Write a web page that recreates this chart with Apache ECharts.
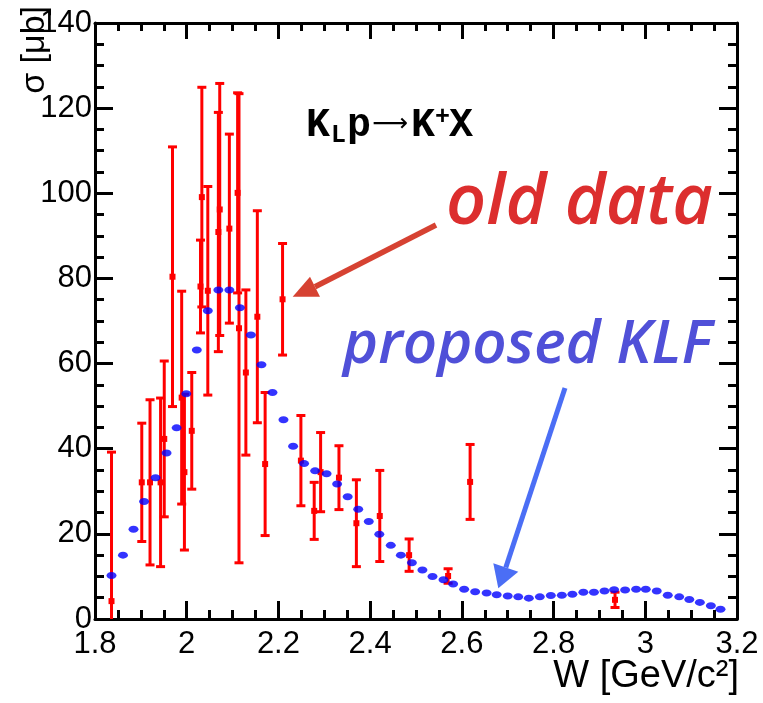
<!DOCTYPE html>
<html><head><meta charset="utf-8">
<script src="https://cdn.jsdelivr.net/npm/echarts@6/dist/echarts.min.js"></script>
<style>html,body{margin:0;padding:0;background:#fff}#c{width:763px;height:703px}</style>
</head><body><div id="c"></div>
<script>
// proposed KLF points (W in GeV/c^2, sigma in microbarn)
const klfW = [1.836,1.861,1.884,1.907,1.932,1.956,1.978,1.999,2.022,2.046,2.069,2.093,2.116,2.140,2.163,2.187,2.211,2.232,2.256,2.280,2.305,2.328,2.351,2.374,2.397,2.420,2.445,2.467,2.491,2.514,2.536,2.560,2.581,2.605,2.629,2.654,2.676,2.700,2.723,2.746,2.770,2.794,2.818,2.841,2.865,2.888,2.911,2.932,2.956,2.980,3.001,3.025,3.049,3.074,3.096,3.119,3.143,3.164];
const klfSigma = [10.2,15.0,21.1,27.6,33.2,39.0,44.9,52.9,63.2,72.4,77.3,77.3,73.1,66.7,59.7,53.2,46.8,40.6,36.5,34.8,34.1,31.7,28.7,25.8,22.9,19.9,17.3,15.0,13.2,11.5,10.0,9.2,8.2,7.0,6.4,6.1,5.7,5.4,5.2,4.9,5.2,5.5,5.6,5.8,6.3,6.3,6.6,6.9,6.8,7.0,7.0,6.6,5.6,5.2,4.6,3.9,3.1,2.3];
// old data with symmetric errors
const oldW = [1.836,1.902,1.920,1.943,1.951,1.969,1.989,1.995,2.011,2.030,2.033,2.046,2.069,2.072,2.093,2.111,2.114,2.129,2.154,2.171,2.209,2.249,2.278,2.292,2.332,2.370,2.421,2.485,2.570,2.618,2.934];
const oldSigma = [4.2,32.1,32.1,32.1,42.3,80.4,52.0,34.5,44.2,78.1,99.1,77.1,90.9,96.2,91.7,100.1,68.3,57.9,71.0,36.4,75.1,37.2,25.4,34.5,33.2,22.5,24.2,15.0,10.1,32.2,4.5];
const oldErr = [35.0,13.9,19.4,19.8,18.3,30.5,25.0,18.3,13.7,10.9,25.8,24.5,28.1,29.6,22.2,23.5,55.1,19.4,24.9,16.8,13.1,10.6,6.7,9.3,7.5,10.2,10.7,3.8,1.7,8.8,1.8];
// axes
const xRange = [1.8, 3.2], xStep = 0.2;
const yRange = [0, 140], yStep = 20;
const xTitle = 'W [GeV/c\u00b2]';
const yTitle = '\u03c3 [\u03bcb]';

const chart = echarts.init(document.getElementById('c'), null, {renderer:'canvas'});
const blk = '#000';
function xAx(pos, labels, maj, min) {
  return {type:'value', position:pos, min:xRange[0], max:xRange[1], interval:xStep,
    axisLine:{show:true, onZero:false, lineStyle:{color:blk, width:3}},
    axisTick:{show:true, inside:true, length:maj, lineStyle:{color:blk, width:3}},
    minorTick:{show:true, splitNumber:4, length:min, lineStyle:{color:blk, width:3}},
    splitLine:{show:false}, minorSplitLine:{show:false},
    axisLabel:{show:labels, fontSize:31, color:blk, fontFamily:'Liberation Sans', margin:10,
      showMinLabel:true, showMaxLabel:true, formatter:v=>String(+(+v).toFixed(1))}};
}
function yAx(pos, labels, maj, min) {
  return {type:'value', position:pos, min:yRange[0], max:yRange[1], interval:yStep,
    axisLine:{show:true, onZero:false, lineStyle:{color:blk, width:3}},
    axisTick:{show:true, inside:true, length:maj, lineStyle:{color:blk, width:3}},
    minorTick:{show:true, splitNumber:4, length:min, lineStyle:{color:blk, width:3}},
    splitLine:{show:false}, minorSplitLine:{show:false},
    axisLabel:{show:labels, fontSize:31, color:blk, fontFamily:'Liberation Sans', margin:3,
      showMinLabel:true, showMaxLabel:true}};
}
const oldData = oldW.map((w,i)=>[w, oldSigma[i], oldErr[i]]);
const klfData = klfW.map((w,i)=>[w, klfSigma[i]]);

function arrow(x0,y0,tip,b1,b2,color,w){
  return [
    {type:'line', shape:{x1:x0,y1:y0,x2:(b1[0]+b2[0])/2,y2:(b1[1]+b2[1])/2}, style:{stroke:color,lineWidth:w}, z:10},
    {type:'polygon', shape:{points:[tip,b1,b2]}, style:{fill:color}, z:10}
  ];
}
const monoB = "'Liberation Mono', 'DejaVu Sans Mono', monospace";
function mono(t, x, y, s, fam, w){
  return {type:'text', x:x, y:y, z:20, style:{text:t, font:(w||'bold')+' '+s+'px '+(fam||monoB), fill:blk, align:'left', verticalAlign:'middle'}};
}
chart.setOption({
  animation:false,
  backgroundColor:'#fff',
  grid:{left:95, right:26, top:23, bottom:84, containLabel:false},
  xAxis:[xAx('bottom', true, 18, 9), xAx('top', false, 16, 8)],
  yAxis:[yAx('left', true, 18, 9), yAx('right', false, 18, 9)],
  series:[
    {type:'custom', clip:true, data:oldData, z:2,
     renderItem:function(params, api){
       const x=api.value(0), y=api.value(1), e=api.value(2);
       const c=api.coord([x,y]), hi=api.coord([x,y+e]), lo=api.coord([x,y-e]);
       const st={stroke:'#ff0000', lineWidth:3};
       return {type:'group', children:[
         {type:'line', shape:{x1:c[0],y1:hi[1],x2:c[0],y2:lo[1]}, style:st},
         {type:'line', shape:{x1:c[0]-4.5,y1:hi[1],x2:c[0]+4.5,y2:hi[1]}, style:st},
         {type:'line', shape:{x1:c[0]-4.5,y1:lo[1],x2:c[0]+4.5,y2:lo[1]}, style:st},
         {type:'rect', shape:{x:c[0]-3,y:c[1]-3,width:6,height:6}, style:{fill:'#ff0000'}}
       ]};
     }},
    {type:'scatter', data:klfData, symbol:'circle', symbolSize:[10,7], z:5,
     itemStyle:{color:'#0000ff'}}
  ],
  graphic:[
    {type:'text', x:35, y:6, rotation:Math.PI/2, z:20,
     style:{text:yTitle, fontSize:34, fontFamily:'Liberation Sans', fill:blk, align:'right', verticalAlign:'middle'}},
    {type:'text', x:739, y:677, z:20,
     style:{text:xTitle, fontSize:38, fontFamily:'Liberation Sans', fill:blk, align:'right', verticalAlign:'middle'}},
    mono('K', 306, 126, 40),
    mono('L', 331, 136, 25),
    mono('p', 347, 126, 40),
    mono('\u27f6', 372, 124, 25, "'DejaVu Sans'", 'normal'),
    mono('K', 411, 126, 40),
    mono('+', 435, 118, 25),
    mono('X', 449, 126, 40),
    {type:'text', x:446, y:204, z:20, style:{text:'old data', fontSize:70, fontStyle:'italic', fontWeight:600, fontFamily:'Open Sans', fill:'#dc2e2e', align:'left', verticalAlign:'middle'}},
    {type:'text', x:343, y:346, z:20, style:{text:'proposed KLF', fontSize:60, fontStyle:'italic', fontWeight:600, fontFamily:'Open Sans', fill:'#5050d8', align:'left', verticalAlign:'middle'}},
    ...arrow(436,225,[292.7,296.7],[310,276.7],[320,296.7],'#d64232',5.5),
    ...arrow(565,388,[498.3,588.3],[493.3,563.3],[518.3,571.7],'#4b6ef5',5)
  ]
});
</script></body></html>
